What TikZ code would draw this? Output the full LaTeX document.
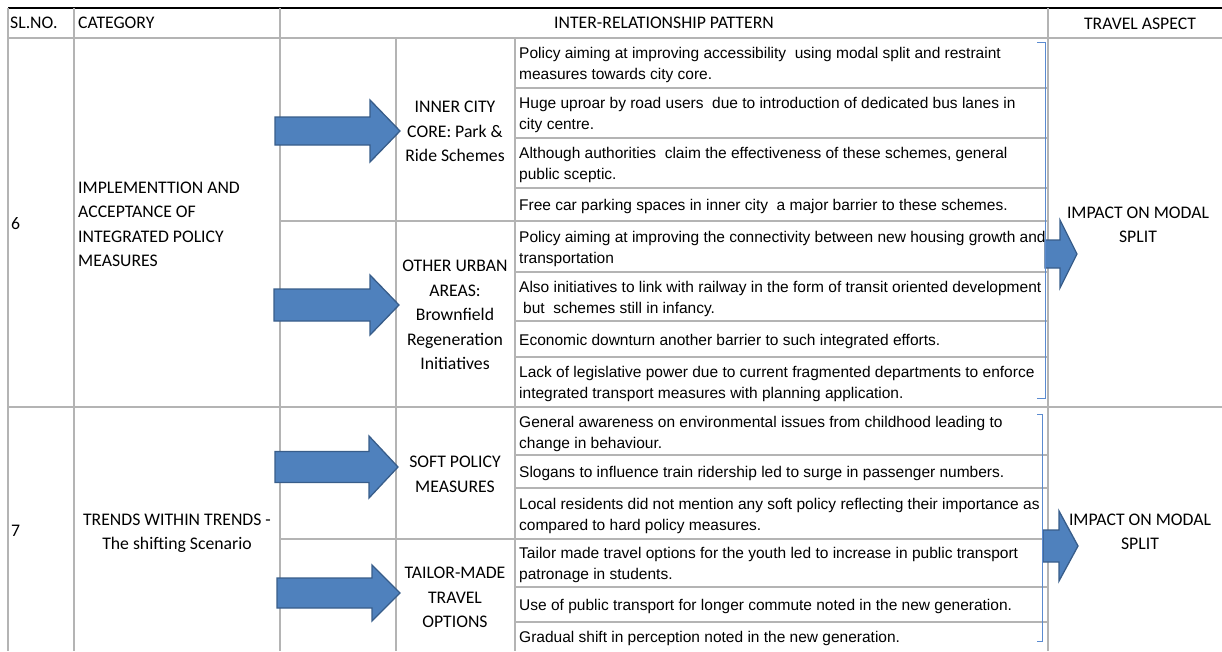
\documentclass[tikz,border=0pt]{standalone}
\usepackage{fontspec}
\setmainfont{Carlito}
\newfontfamily\arialfont{Liberation Sans}
\definecolor{gridgray}{HTML}{B4B4B4}
\definecolor{arrfill}{HTML}{4F81BD}
\definecolor{arrline}{HTML}{385D8A}
\definecolor{brkblue}{HTML}{5B8BD0}
% block arrow: tail x, head x, tip x, mid y, shaft half, head half
\newcommand{\bigarrow}[6]{%
  \draw[bigarr] (#1,#4-#5) -- (#2,#4-#5) -- (#2,#4-#6) -- (#3,#4)
    -- (#2,#4+#6) -- (#2,#4+#5) -- (#1,#4+#5) -- cycle;}
\begin{document}
\begin{tikzpicture}[x=1pt,y=-1pt,
    grid/.style={draw=gridgray,line width=1.4pt},
    bigarr/.style={fill=arrfill,draw=arrline,line width=1.3pt,line join=miter},
    brk/.style={draw=brkblue,line width=0.8pt},
    head/.style={inner sep=0,font=\fontsize{17.7}{24.5}\selectfont},
    cat/.style={inner sep=0,align=left,font=\fontsize{17.7}{24.5}\selectfont},
    sub/.style={inner sep=0,align=center,font=\fontsize{17.7}{24.5}\selectfont},
    stmt/.style={anchor=west,inner sep=0,align=left,font=\arialfont\fontsize{15.5}{21}\selectfont}]
  \useasboundingbox (0,0) rectangle (1222,651);
  % table lines
  \draw[line width=2.4pt] (8,8) -- (1222,8);
  \draw[grid] (8,38) -- (1222,38);
  \draw[grid] (8,407) -- (1222,407);
  \foreach \x in {8,74,280,1048}
    \draw[grid] (\x,8) -- (\x,651);
  \foreach \x in {396,515}
    \draw[grid] (\x,38) -- (\x,651);
  \draw[grid] (280,221) -- (1048,221);
  \draw[grid] (280,539) -- (1048,539);
  \foreach \y in {88,138,188,272,321,357,455,488,587,622}
    \draw[grid] (515,\y) -- (1048,\y);
  % header
  \node[head,anchor=west] (hsl) at (10,22.5) {SL.NO.};
  \node[head,anchor=west] (hcat) at (78,22.5) {CATEGORY};
  \node[head] (hpat) at (664,22.5) {INTER-RELATIONSHIP PATTERN};
  \node[head] (hasp) at (1140,23.5) {TRAVEL ASPECT};
  % row 6
  \node[head,anchor=west] (n6) at (11,224) {6};
  \node[cat,anchor=west] (c6) at (78,224.5)
    {IMPLEMENTTION AND\\ACCEPTANCE OF\\INTEGRATED POLICY\\MEASURES};
  \node[sub] (inner) at (455,131.5) {INNER CITY\\CORE: Park \&\\Ride Schemes};
  \node[sub] (urban) at (455,315)
    {OTHER URBAN\\AREAS:\\Brownfield\\Regeneration\\Initiatives};
  \node[stmt] (s1) at (519,64.5) {Policy aiming at improving accessibility\ \ using modal split and restraint\\measures towards city core.};
  \node[stmt] (s2) at (519,114.5) {Huge uproar by road users\ \ due to introduction of dedicated bus lanes in\\city centre.};
  \node[stmt] (s3) at (519,164.5) {Although authorities\ \ claim the effectiveness of these schemes, general\\public sceptic.};
  \node[stmt] (s4) at (519,206.5) {Free car parking spaces in inner city\ \ a major barrier to these schemes.};
  \node[stmt] (s5) at (519,248.5) {Policy aiming at improving the connectivity between new housing growth and\\transportation};
  \node[stmt] (s6) at (519,298.5) {Also initiatives to link with railway in the form of transit oriented development\\\hspace*{4pt}but\ \ schemes still in infancy.};
  \node[stmt] (s7) at (519,341.5) {Economic downturn another barrier to such integrated efforts.};
  \node[stmt] (s8) at (519,383.5) {Lack of legislative power due to current fragmented departments to enforce\\integrated transport measures with planning application.};
  \node[sub] (a6) at (1138,225) {IMPACT ON MODAL\\SPLIT};
  % row 7
  \node[head,anchor=west] (n7) at (11,531) {7};
  \node[sub] (c7) at (177,533.5) {TRENDS WITHIN TRENDS -\\The shifting Scenario};
  \node[sub] (soft) at (455,474.5) {SOFT POLICY\\MEASURES};
  \node[sub] (tailor) at (455,597.5) {TAILOR-MADE\\TRAVEL\\OPTIONS};
  \node[stmt] (s9) at (519,433.5) {General awareness on environmental issues from childhood leading to\\change in behaviour.};
  \node[stmt] (s10) at (519,473.5) {Slogans to influence train ridership led to surge in passenger numbers.};
  \node[stmt] (s11) at (519,515.5) {Local residents did not mention any soft policy reflecting their importance as\\compared to hard policy measures.};
  \node[stmt] (s12) at (519,564.5) {Tailor made travel options for the youth led to increase in public transport\\patronage in students.};
  \node[stmt] (s13) at (519,606.5) {Use of public transport for longer commute noted in the new generation.};
  \node[stmt] (s14) at (519,638.5) {Gradual shift in perception noted in the new generation.};
  \node[sub] (a7) at (1140,532) {IMPACT ON MODAL\\SPLIT};
  % arrows
  \bigarrow{275}{370}{400}{131}{14}{31}
  \bigarrow{274}{370}{399}{305}{16}{30}
  \bigarrow{275}{369}{398}{467}{15.5}{31}
  \bigarrow{277}{372}{400}{593}{15}{28}
  \bigarrow{1045}{1060}{1077}{254}{14}{34}
  \bigarrow{1043}{1059}{1078}{546}{16}{35}
  % brackets
  \draw[brk] (1037,42) -- (1045,42) -- (1045,398) -- (1037,398);
  \draw[brk] (1037,414) -- (1042,414) -- (1042,641) -- (1037,641);
\end{tikzpicture}
\end{document}
